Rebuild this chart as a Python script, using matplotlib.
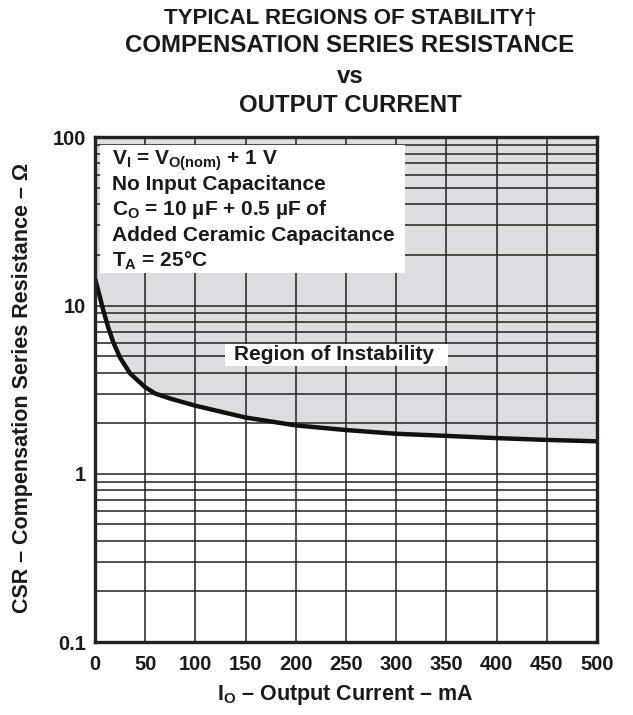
import numpy as np
import matplotlib.pyplot as plt
from matplotlib.patches import Rectangle
from matplotlib.ticker import LogLocator, FixedLocator, NullFormatter

plt.rcParams['font.family'] = ['Liberation Sans', 'DejaVu Sans']
plt.rcParams['font.weight'] = 'bold'
plt.rcParams['mathtext.fontset'] = 'custom'
plt.rcParams['mathtext.rm'] = 'Liberation Sans:bold'
plt.rcParams['mathtext.it'] = 'Liberation Sans:bold'
plt.rcParams['mathtext.bf'] = 'Liberation Sans:bold'

# stability boundary, CSR (ohm) vs output current (mA)
current = [0, 4, 8, 13, 18, 25, 35, 50, 60, 75, 100, 150, 200, 250, 300, 350, 400, 450, 500]
csr = [14.5, 11.8, 9.5, 7.5, 6.1, 4.9, 3.95, 3.27, 3.0, 2.8, 2.54, 2.16, 1.94, 1.82,
       1.73, 1.68, 1.63, 1.59, 1.56]

x_ticks = [0, 50, 100, 150, 200, 250, 300, 350, 400, 450, 500]
y_ticks = [0.1, 1, 10, 100]
y_labels = ['0.1', '1', '10', '100']

conditions = [
    r'V$_\mathregular{I}$ = V$_\mathregular{O(nom)}$ + 1 V',
    'No Input Capacitance',
    r'C$_\mathregular{O}$ = 10 µF + 0.5 µF of',
    'Added Ceramic Capacitance',
    r'T$_\mathregular{A}$ = 25°C',
]

title_lines = ['TYPICAL REGIONS OF STABILITY†', 'COMPENSATION SERIES RESISTANCE',
               'vs', 'OUTPUT CURRENT']

ink = '#1a1a1a'

fig = plt.figure(figsize=(6.33, 7.15), dpi=100)
ax = fig.add_axes([0.150, 0.102, 0.793, 0.706])

ax.set_yscale('log')
ax.set_xlim(0, 500)
ax.set_ylim(0.1, 100)

# shaded region of instability above the boundary
ax.fill_between(current, csr, 100, color='#dcdde0', lw=0, zorder=0.2)
ax.plot(current, csr, color='#111111', lw=3.2, solid_capstyle='butt',
        solid_joinstyle='round', zorder=4)

ax.xaxis.set_major_locator(FixedLocator(x_ticks))
ax.yaxis.set_major_locator(FixedLocator(y_ticks))
ax.set_yticklabels(y_labels)
ax.yaxis.set_minor_locator(LogLocator(base=10, subs=np.arange(2, 10)))
ax.yaxis.set_minor_formatter(NullFormatter())
ax.set_axisbelow(False)
ax.grid(True, which='both', color='#222222', lw=1.1)
ax.tick_params(which='both', length=0, labelsize=14.5, labelcolor=ink)
ax.tick_params(axis='y', pad=6.5)
ax.tick_params(axis='x', pad=9.5)
for s in ax.spines.values():
    s.set_linewidth(2.4)
    s.set_color('#222222')
    s.set_zorder(5)

# condition box
ax.add_patch(Rectangle((0.010, 0.731), 0.608, 0.253, transform=ax.transAxes,
                       facecolor='white', edgecolor='none', zorder=3))
for i, line in enumerate(conditions):
    ax.text(0.034, 0.9465 - i * 0.0505, line, transform=ax.transAxes,
            fontsize=15, fontweight='bold', va='baseline', ha='left',
            color=ink, zorder=3.5)

ax.add_patch(Rectangle((0.259, 0.547), 0.444, 0.043, transform=ax.transAxes,
                       facecolor='white', edgecolor='none', zorder=3))
ax.text(0.476, 0.570, 'Region of Instability', transform=ax.transAxes,
        fontsize=15, fontweight='bold', ha='center', va='center',
        color=ink, zorder=3.5)

fig.text(0.546, 0.021, r'I$_\mathregular{O}$ – Output Current – mA', fontsize=15.5,
         fontweight='bold', ha='center', va='baseline', color=ink)
fig.text(0.036, 0.457, 'CSR – Compensation Series Resistance – Ω', fontsize=15.5,
         fontweight='bold', ha='center', va='center', rotation=90, color=ink)

cx = 0.553
fig.text(cx, 0.974, title_lines[0], ha='center', va='center',
         fontsize=16, fontweight='bold', color=ink)
fig.text(cx, 0.937, title_lines[1], ha='center', va='center',
         fontsize=17.3, fontweight='bold', color=ink)
fig.text(cx, 0.893, title_lines[2], ha='center', va='center',
         fontsize=17.3, fontweight='bold', color=ink)
fig.text(cx, 0.852, title_lines[3], ha='center', va='center',
         fontsize=17.3, fontweight='bold', color=ink)

fig.savefig('out.png', dpi=100)
